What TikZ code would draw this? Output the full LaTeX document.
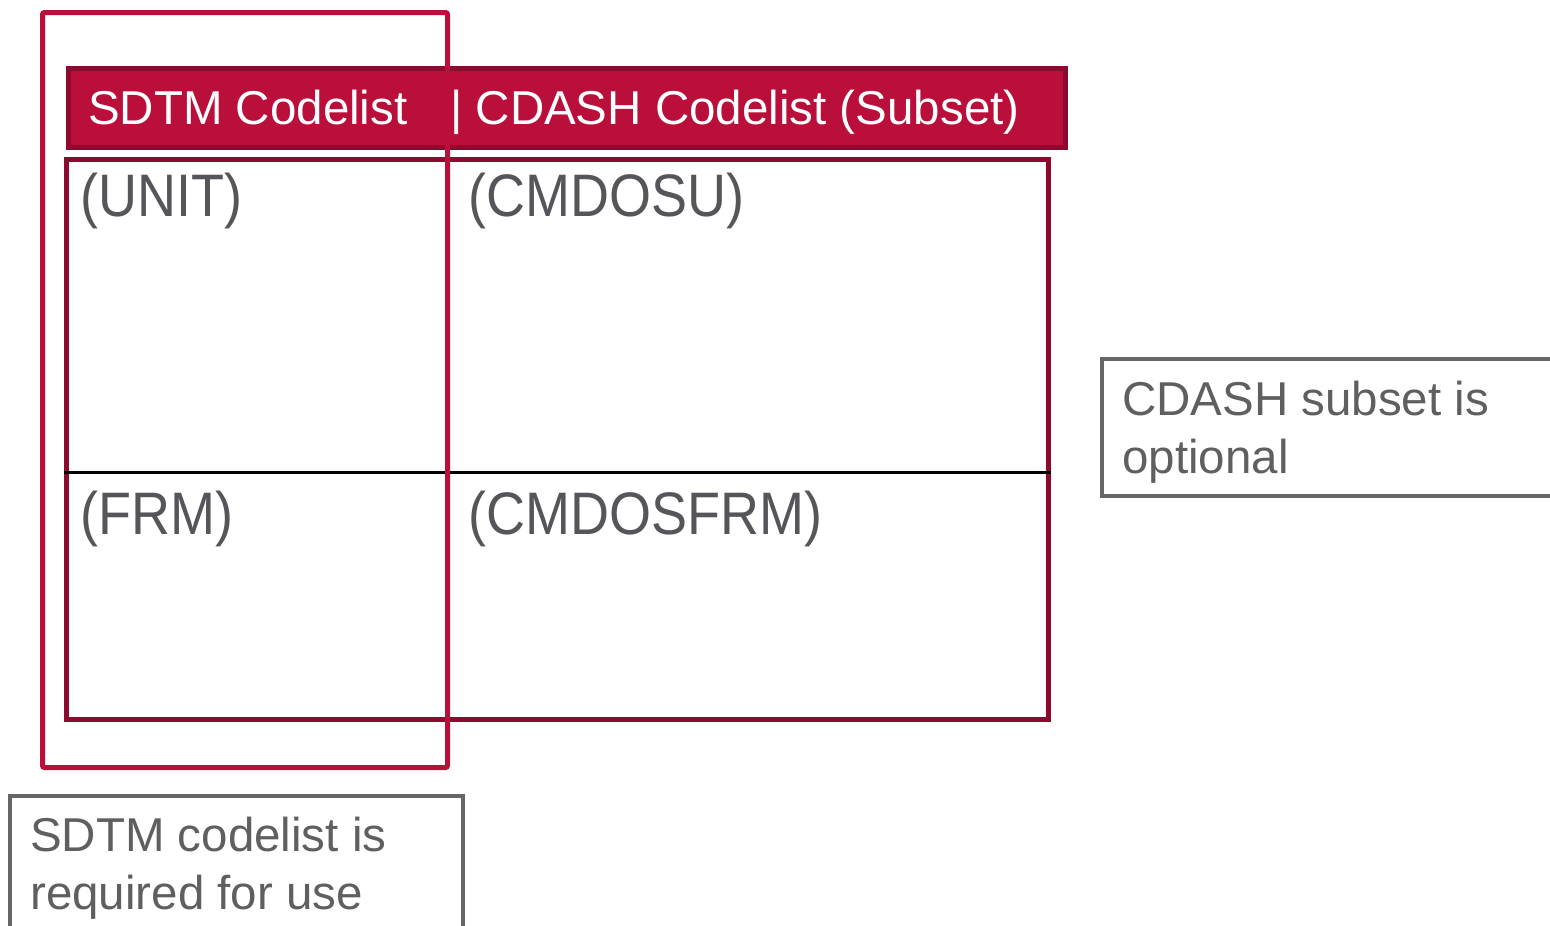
\documentclass[tikz,border=0pt]{standalone}
\usepackage{fontspec}
\setmainfont{Liberation Sans}
\newfontfamily\cellfont[FakeStretch=0.9]{Liberation Sans}
\definecolor{cdiscred}{RGB}{186,15,59}
\definecolor{cdiscdark}{RGB}{139,10,46}
\definecolor{cellgray}{RGB}{85,85,90}
\definecolor{notegray}{RGB}{102,102,102}
\definecolor{notetext}{RGB}{95,95,95}
\begin{document}
\begin{tikzpicture}[
        x=1pt, y=-1pt,
        headbar/.style={draw=cdiscdark, fill=cdiscred, line width=4.5pt, anchor=north west, inner sep=0pt},
        headtext/.style={text=white, anchor=base west, inner sep=0pt, font=\fontsize{47.5}{57}\selectfont},
        tablebox/.style={draw=cdiscdark, line width=4.5pt, anchor=north west, inner sep=0pt},
        rowline/.style={draw=black, line width=3pt},
        cell/.style={text=cellgray, anchor=base west, inner sep=0pt, font=\cellfont\fontsize{60}{70}\selectfont},
        colframe/.style={draw=cdiscred, line width=5pt, rounded corners=2pt, anchor=north west, inner sep=0pt},
        notebox/.style={draw=notegray, line width=4pt, anchor=north west, inner sep=0pt},
        notetxt/.style={text=notetext, anchor=north west, align=left, inner sep=0pt, font=\fontsize{47.5}{57.5}\selectfont},
    ]
    \useasboundingbox (0,0) rectangle (1550,926);
    % header
    \node[headbar, minimum width=997pt, minimum height=79pt](head) at (66,66){};
    \node[headtext](sdtmhead) at (88,124){SDTM Codelist};
    \node[headtext](cdashhead) at (450,124){| CDASH Codelist (Subset)};
    % table body
    \node[tablebox, minimum width=982pt, minimum height=560pt](body) at (64,157){};
    \coordinate (rowy) at (0,472);
    \draw[rowline] (body.west |- rowy) -- (body.east |- rowy);
    \node[cell](unit) at (80,216){(UNIT)};
    \node[cell](cmdosu) at (468,216){(CMDOSU)};
    \node[cell](frm) at (80,534){(FRM)};
    \node[cell](cmdosfrm) at (468,534){(CMDOSFRM)};
    % SDTM column frame
    \node[colframe, minimum width=405pt, minimum height=755pt](sdtmcol) at (40,10){};
    % notes
    \node[notebox, minimum width=480pt, minimum height=137pt](optbox) at (1100,357){};
    \node[notetxt](opttext) at (1122,381){CDASH subset is\\optional};
    \node[notebox, minimum width=453pt, minimum height=180pt](reqbox) at (8,794){};
    \node[notetxt](reqtext) at (30,817){SDTM codelist is\\required for use};
\end{tikzpicture}
\end{document}
